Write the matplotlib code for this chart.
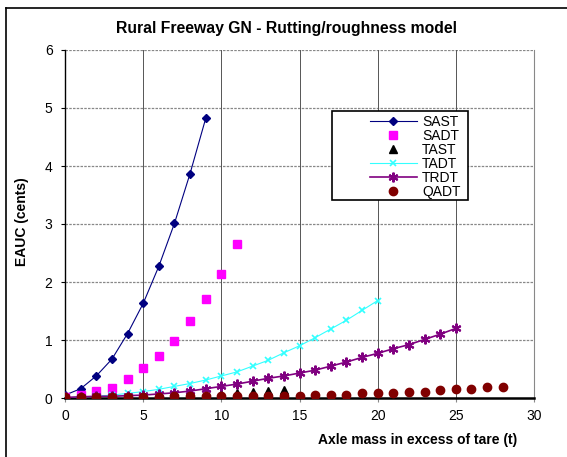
import matplotlib.pyplot as plt
from matplotlib.patches import Rectangle
import numpy as np

plt.rcParams['font.family'] = ['Liberation Sans', 'DejaVu Sans']

# axle mass in excess of tare (t)
x_sast = np.arange(0, 10)
sast = [0.05, 0.16, 0.38, 0.67, 1.11, 1.63, 2.27, 3.01, 3.87, 4.82]

x_sadt = np.arange(0, 12)
sadt = [0.02, 0.06, 0.12, 0.18, 0.33, 0.51, 0.72, 0.99, 1.32, 1.70, 2.14, 2.66]

x_tast = np.arange(0, 15)
tast = [0.0, 0.0, 0.01, 0.01, 0.02, 0.02, 0.03, 0.04, 0.05, 0.06, 0.07, 0.09, 0.11, 0.12, 0.13]

x_tadt = np.arange(0, 21)
tadt = [0.0, 0.02, 0.03, 0.05, 0.08, 0.11, 0.15, 0.20, 0.25, 0.31, 0.38, 0.45, 0.55, 0.65,
        0.78, 0.90, 1.04, 1.19, 1.34, 1.51, 1.68]

x_trdt = np.arange(0, 26)
trdt = [0.01, 0.02, 0.03, 0.03, 0.04, 0.05, 0.07, 0.09, 0.12, 0.16, 0.20, 0.24, 0.29, 0.34,
        0.38, 0.43, 0.48, 0.55, 0.62, 0.70, 0.77, 0.85, 0.92, 1.01, 1.10, 1.20]

x_qadt = np.arange(0, 29)
qadt = [0.01, 0.01, 0.01, 0.02, 0.02, 0.02, 0.02, 0.03, 0.03, 0.03, 0.03, 0.03, 0.04, 0.04,
        0.04, 0.04, 0.06, 0.06, 0.06, 0.09, 0.09, 0.09, 0.11, 0.11, 0.14, 0.16, 0.16, 0.19, 0.19]

fig = plt.figure(figsize=(5.67, 4.57), dpi=100)
ax = fig.add_axes([65/567, 59/457, 469/567, 348/457])

ax.plot(x_sast, sast, color='#000080', lw=0.8, marker='D', ms=4, label='SAST', zorder=3)
ax.plot(x_sadt, sadt, color='#FF00FF', ls='none', marker='s', ms=6, label='SADT', zorder=3)
ax.plot(x_tast, tast, color='black', ls='none', marker='^', ms=6, label='TAST', zorder=3)
ax.plot(x_tadt, tadt, color='#33FFFF', lw=0.8, marker='x', ms=4, mew=1.2, label='TADT', zorder=3)
ax.plot(x_trdt, trdt, color='#800080', lw=1.2, marker=(6, 2, 0), ms=7, mew=1.5, label='TRDT', zorder=3)
ax.plot(x_qadt, qadt, color='#800000', ls='none', marker='o', ms=6, label='QADT', zorder=4)

ax.set_xlim(0, 30)
ax.set_ylim(0, 6)
ax.set_xticks(range(0, 31, 5))
ax.set_yticks(range(0, 7))
ax.tick_params(labelsize=10, length=3, width=0.8, color='black')
ax.tick_params(axis='x', pad=5, color='#888888')
ax.tick_params(axis='y', pad=6)

for yv in range(1, 7):
    ax.axhline(yv, color='#888888', lw=0.9, ls=(0, (2, 1)), zorder=1)
for xv in range(5, 30, 5):
    ax.axvline(xv, color='#555555', lw=0.7, zorder=1)

ax.spines['top'].set_visible(False)
ax.spines['right'].set_color('#888888')
ax.spines['left'].set_linewidth(1.0)
ax.spines['bottom'].set_linewidth(1.8)

# legend box drawn separately, entries placed inside it
ax.add_patch(Rectangle((0.569, 0.569), 0.29, 0.256, transform=ax.transAxes, facecolor='white',
                       edgecolor='black', lw=1.2, zorder=5))
leg = ax.legend(loc='upper left', bbox_to_anchor=(0.650, 0.813), fontsize=10, frameon=False,
                handlelength=3.4, handletextpad=0.36, labelspacing=0.0, borderpad=0,
                borderaxespad=0)
leg.set_zorder(6)

fig.text(286/567, 1 - 28/457, 'Rural Freeway GN - Rutting/roughness model', ha='center', va='center',
         fontsize=11.3, fontweight='bold')
fig.text(22/567, 1 - 222/457, 'EAUC (cents)', rotation=90, ha='center', va='center',
         fontsize=10, fontweight='bold')
fig.text(418/567, 1 - 440/457, 'Axle mass in excess of tare (t)', ha='center', va='center',
         fontsize=10, fontweight='bold')

# outer frame (left and top edges visible)
fig.add_artist(plt.Line2D([6/567, 6/567], [0, 1 - 8/457], color='black', lw=1.2))
fig.add_artist(plt.Line2D([6/567, 1], [1 - 8/457, 1 - 8/457], color='black', lw=1.2))

fig.savefig('out.png', dpi=100)
